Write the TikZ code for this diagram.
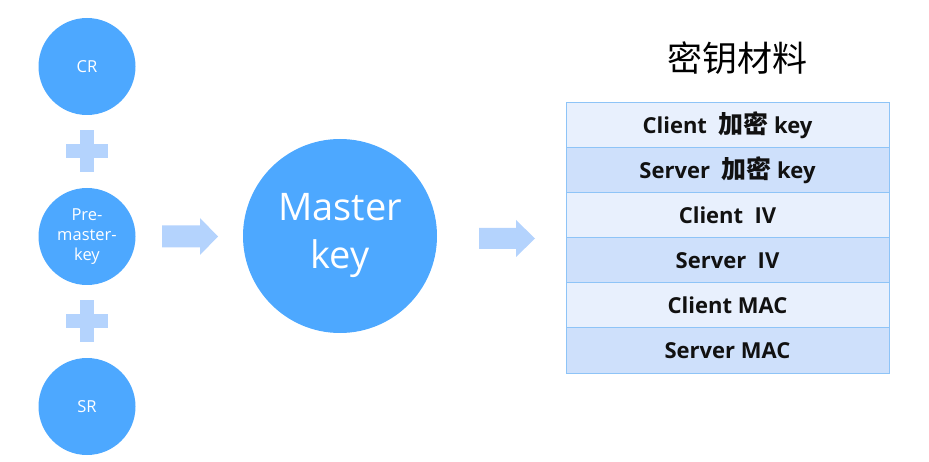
\documentclass[tikz,border=0pt]{standalone}
\usepackage{fontspec}
\setmainfont{Open Sans}
\newfontfamily\cjk{Noto Sans CJK SC}
\definecolor{circblue}{HTML}{4DA8FF}
\definecolor{paleblue}{HTML}{B4D3FD}
\definecolor{rowlight}{HTML}{E8F0FD}
\definecolor{rowdark}{HTML}{CEE0FB}
\definecolor{rowline}{HTML}{8EC4F7}
\definecolor{rowtext}{HTML}{111111}
\newcommand{\jiami}{{\cjk\bfseries\fontsize{25}{26}\selectfont 加密}}
\begin{document}
\begin{tikzpicture}[x=1pt,y=-1pt,
  bubble/.style={circle,fill=circblue,inner sep=0pt,text=white,align=center,
    font=\fontsize{16.5}{20}\selectfont},
  paleshape/.style={fill=paleblue},
  row/.style={draw=rowline,line width=1pt,minimum width=323pt,minimum height=45pt,
    inner sep=0pt,text=rowtext,font=\fontsize{22}{26}\selectfont\bfseries},
  lightrow/.style={row,fill=rowlight},
  darkrow/.style={row,fill=rowdark}]
\useasboundingbox (0,0) rectangle (929,462);
% left circles
\node[bubble,minimum size=97pt] (cr) at (87,66.5) {CR};
\node[bubble,minimum size=97pt] (pre) at (87,236.5) {Pre-\\master-\\key};
\node[bubble,minimum size=97pt] (sr) at (87,406.5) {SR};
% plus signs
\fill[paleshape] (66,144) rectangle (108,158);
\fill[paleshape] (80,130) rectangle (94,172);
\fill[paleshape] (66,314) rectangle (108,328);
\fill[paleshape] (80,300) rectangle (94,342);
% arrow 1
\fill[paleshape] (162,225.5) -- (200,225.5) -- (200,218) -- (218,236.5) -- (200,255) -- (200,247.5) -- (162,247.5) -- cycle;
% master key
\node[bubble,minimum size=194pt,font=\fontsize{38}{48}\selectfont] (mk) at (340,236) {\raisebox{-2pt}{Master}\\\raisebox{-2pt}{key}};
% arrow 2
\fill[paleshape] (479,228) -- (516,228) -- (516,220) -- (535,238.5) -- (516,257) -- (516,249) -- (479,249) -- cycle;
% title
\node[font=\cjk\fontsize{35}{40}\selectfont] (title) at (737.5,58) {密钥材料};
% table
\node[lightrow] (r1) at (727.5,125.5) {Client\ \ \jiami{} key};
\node[darkrow]  (r2) at (727.5,170.5) {Server\ \ \jiami{} key};
\node[lightrow] (r3) at (727.5,215.5) {Client\ \ IV};
\node[darkrow]  (r4) at (727.5,260.5) {Server\ \ IV};
\node[lightrow] (r5) at (727.5,305.5) {Client MAC};
\node[darkrow]  (r6) at (727.5,350.5) {Server MAC};
\end{tikzpicture}
\end{document}
